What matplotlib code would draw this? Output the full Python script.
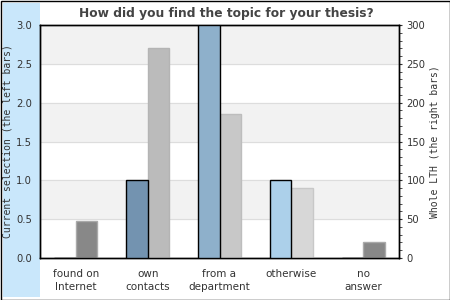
import matplotlib.pyplot as plt
import matplotlib.patches as mpatches
from matplotlib.ticker import MultipleLocator
import numpy as np

######################## data #################################################
categories = ['found on\nInternet', 'own\ncontacts', 'from a\ndepartment', 'otherwise', 'no\nanswer']
current_selection = [0, 1, 3, 1, 0]        # left axis
whole_lth = [47, 271, 186, 90, 20]         # right axis
left_colors = ['#7393b0', '#7393b0', '#8eb0cb', '#acd0ea', '#7393b0']
right_colors = ['#888888', '#bbbbbb', '#c8c8c8', '#d7d7d7', '#888888']
right_edges = ['#aaaaaa', '#b4b4b4', '#bdbdbd', '#c8c8c8', '#aaaaaa']
title = 'How did you find the topic for your thesis?'
######################## data #################################################

fig = plt.figure(figsize=(4.5, 3), dpi=100)
fig.patch.set_facecolor('white')

# light blue strip on the left + outer border
fig.patches.append(mpatches.Rectangle((3/450, 3/300), 37/450, 294/300, transform=fig.transFigure,
                                      facecolor='#c9e7fb', edgecolor='none', zorder=-1))
fig.patches.append(mpatches.Rectangle((0.5/450, 0.5/300), 449/450, 299/300, transform=fig.transFigure,
                                      facecolor='none', edgecolor='black', linewidth=1, zorder=5))

ax = fig.add_axes([40/450, 42/300, 359/450, 233/300])
ax2 = ax.twinx()
# left axis on top so its black bars are not hidden
ax.set_zorder(ax2.get_zorder() + 1)
ax.patch.set_visible(False)

x = np.arange(len(categories))
w = 0.3

# alternating background bands (drawn in right-axis units)
for lo in [50, 150, 250]:
    ax2.axhspan(lo, lo + 50, color='#f2f2f2', zorder=0)
for yv in [50, 100, 150, 200, 250]:
    ax2.axhline(yv, color='#dddddd', linewidth=0.8, zorder=0.5)

ax2.bar(x + w/2, whole_lth, width=w, color=right_colors, edgecolor=right_edges, linewidth=1, zorder=3)
ax.bar(x - w/2, current_selection, width=w, color=left_colors, edgecolor='black', linewidth=1, zorder=3)

ax.set_xlim(-0.5, 4.5)
ax.set_ylim(0, 3)
ax2.set_ylim(0, 300)
ax.set_yticks([0, 0.5, 1.0, 1.5, 2.0, 2.5, 3.0])
ax.set_yticklabels(['0.0', '0.5', '1.0', '1.5', '2.0', '2.5', '3.0'])
ax2.set_yticks([0, 50, 100, 150, 200, 250, 300])
ax2.yaxis.set_minor_locator(MultipleLocator(10))

ax.set_xticks(x)
ax.set_xticklabels(categories, fontsize=7.5, color='#333333', linespacing=1.35)
ax.tick_params(axis='x', length=0, pad=8)
ax.tick_params(axis='y', length=0, labelsize=7.2, colors='#333333', pad=5.8)
ax2.tick_params(axis='y', which='major', length=2.5, labelsize=7.2, colors='#333333', pad=3)
ax2.tick_params(axis='y', which='minor', length=2.5, color='#333333')
ax2.tick_params(axis='y', which='major', color='#333333')

for a in (ax, ax2):
    for s in a.spines.values():
        s.set_color('black')
        s.set_linewidth(1)

ax.set_ylabel('Current selection (the left bars)', family='DejaVu Sans Mono', fontsize=7, color='#333333')
ax.yaxis.set_label_coords(-0.076, 0.5)
ax2.set_ylabel('Whole LTH (the right bars)', family='DejaVu Sans Mono', fontsize=7, color='#333333',
               rotation=90)
ax2.yaxis.set_label_coords(1.086, 0.5)
fig.text(0.502, 0.955, title, fontsize=8.8, fontweight='bold', color='#444444', ha='center', va='center')

fig.savefig('out.png', dpi=100)
